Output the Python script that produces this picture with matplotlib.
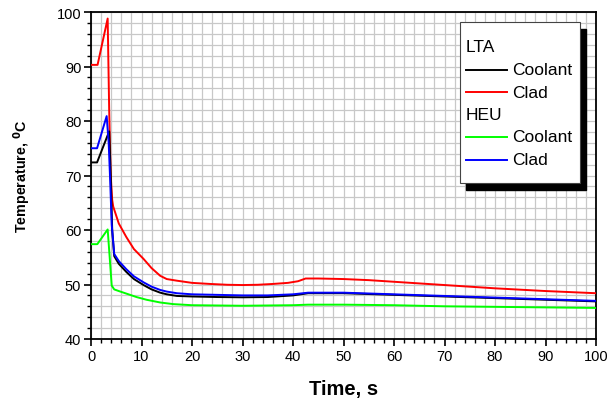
import matplotlib
matplotlib.use("Agg")
import matplotlib.pyplot as plt
from matplotlib.patches import Rectangle
from matplotlib.ticker import MultipleLocator

plt.rcParams['font.family'] = ['Liberation Sans', 'DejaVu Sans']

# LTA clad (red)
t_lta_clad = [0, 1.3, 3.3, 3.6, 3.9, 4.2, 4.4, 5.5, 7, 8.5, 10.4, 12, 13.7, 15, 17, 20,
              23.6, 27, 30, 33, 36, 39, 41, 42.5, 45, 50, 55, 60, 70, 80, 90, 100]
T_lta_clad = [90.3, 90.3, 98.8, 82, 70, 65.5, 64.3, 61.2, 58.7, 56.5, 54.7, 53.0, 51.6, 51.0, 50.7, 50.3,
              50.1, 49.95, 49.9, 49.95, 50.1, 50.3, 50.6, 51.1, 51.1, 51.0, 50.8, 50.5, 49.9, 49.3, 48.8, 48.4]

# LTA coolant (black)
t_lta_cool = [0, 1.2, 3.6, 3.9, 4.2, 4.6, 5.5, 7, 8.5, 10.4, 12, 13.7, 15, 17, 20,
              25, 30, 35, 40, 43, 50, 60, 70, 80, 90, 100]
T_lta_cool = [72.4, 72.4, 78.1, 70, 60, 55.2, 53.8, 52.3, 51.0, 49.9, 49.1, 48.5, 48.2, 47.9, 47.8,
              47.7, 47.65, 47.7, 48.0, 48.4, 48.4, 48.1, 47.8, 47.5, 47.2, 46.9]

# HEU coolant (green)
t_heu_cool = [0, 1.25, 3.3, 3.7, 4.1, 4.6, 5.5, 7.1, 9, 11, 13.7, 16.3, 20,
              30, 40, 43, 50, 60, 70, 80, 90, 100]
T_heu_cool = [57.4, 57.4, 60.1, 55, 49.8, 49.1, 48.8, 48.3, 47.7, 47.2, 46.7, 46.4, 46.2,
              46.1, 46.2, 46.3, 46.3, 46.2, 46.0, 45.9, 45.8, 45.7]

# HEU clad (blue)
t_heu_clad = [0, 1.2, 3.1, 3.5, 3.8, 4.1, 4.6, 5.5, 7, 8.5, 10.4, 12, 13.7, 15, 17, 20,
              25, 30, 35, 40, 43, 50, 60, 70, 80, 90, 100]
T_heu_clad = [75, 75, 80.9, 76, 69, 61, 55.6, 54.3, 52.8, 51.5, 50.4, 49.6, 49.0, 48.7, 48.4, 48.2,
              48.1, 48.0, 48.0, 48.2, 48.5, 48.5, 48.2, 47.9, 47.6, 47.3, 47.0]

fig = plt.figure(figsize=(6.1, 4.02), dpi=100)
ax = fig.add_axes([91/610, 1 - 340/402, 505/610, 327/402])

lw = 1.4
ax.plot(t_lta_clad, T_lta_clad, color='#ff0000', lw=lw, zorder=3)
ax.plot(t_lta_cool, T_lta_cool, color='#000000', lw=lw, zorder=3)
ax.plot(t_heu_cool, T_heu_cool, color='#00ff00', lw=lw, zorder=3)
ax.plot(t_heu_clad, T_heu_clad, color='#0000ff', lw=lw, zorder=3)

ax.set_xlim(0, 100)
ax.set_ylim(40, 100)
ax.xaxis.set_major_locator(MultipleLocator(10))
ax.xaxis.set_minor_locator(MultipleLocator(2))
ax.yaxis.set_major_locator(MultipleLocator(10))
ax.yaxis.set_minor_locator(MultipleLocator(2))
ax.grid(which='both', color='#c8c8c8', linewidth=0.9, zorder=0)
ax.set_axisbelow(True)
ax.tick_params(which='major', direction='out', length=5, width=1.2, labelsize=10.5, pad=2)
ax.tick_params(which='minor', direction='out', length=3, width=1.0)
for s in ax.spines.values():
    s.set_linewidth(1.3)

ax.set_xlabel('Time, s', fontsize=14.5, fontweight='bold', labelpad=12)
ax.set_ylabel(r'Temperature, $^{\mathbf{0}}$C', fontsize=10.3, fontweight='bold', labelpad=17)

# legend box with solid shadow
def px(x, y):
    return ((x - 91) / 505, (340 - y) / 327)

x0, y0 = px(460, 184)
x1, y1 = px(580, 23)
sx, sy = 6 / 505, 7 / 327
ax.add_patch(Rectangle((x0 + sx, y0 - sy), x1 - x0, y1 - y0, transform=ax.transAxes,
                       facecolor='black', edgecolor='black', zorder=6))
ax.add_patch(Rectangle((x0, y0), x1 - x0, y1 - y0, transform=ax.transAxes,
                       facecolor='white', edgecolor='#444444', linewidth=0.8, zorder=7))

entries = [('LTA', None), ('Coolant', '#000000'), ('Clad', '#ff0000'),
           ('HEU', None), ('Coolant', '#00ff00'), ('Clad', '#0000ff')]
ys = [47.5, 70.5, 93, 115.5, 138, 160.5]
for (label, col), yy in zip(entries, ys):
    if col is None:
        tx, ty = px(466, yy)
        ax.text(tx, ty, label, transform=ax.transAxes, fontsize=12.5, va='center', ha='left', zorder=8)
    else:
        lx0, ly = px(466, yy)
        lx1, _ = px(507, yy)
        ax.plot([lx0, lx1], [ly, ly], transform=ax.transAxes, color=col, lw=1.4, zorder=8)
        tx, _ = px(512, yy)
        ax.text(tx, ly, label, transform=ax.transAxes, fontsize=12.5, va='center', ha='left', zorder=8)

fig.savefig('out.png', dpi=100)
